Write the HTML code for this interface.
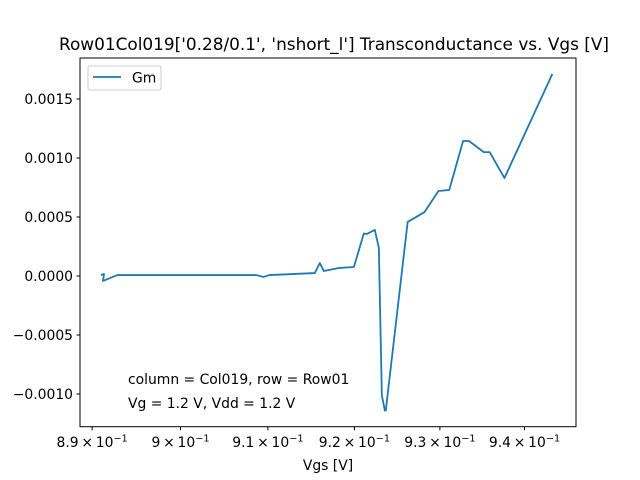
<!DOCTYPE html>
<html><head><meta charset="utf-8"><style>
body{margin:0;background:#fff}
svg{display:block;font-family:"DejaVu Sans","Liberation Sans",sans-serif}
</style></head><body>
<svg id="chart" width="640" height="480" viewBox="0 0 640 480">
<rect width="640" height="480" fill="#fff"/>
<text x="334" y="50" font-size="16.9" text-anchor="middle">Row01Col019['0.28/0.1', 'nshort_l'] Transconductance vs. Vgs [V]</text>
<g id="xticks"></g>
<g id="yticks"></g>
<path id="line" fill="none" stroke="#1f77b4" stroke-width="1.8" stroke-linejoin="round"/>
<rect x="80" y="58" width="496" height="368.7" fill="none" stroke="#000" stroke-width="1"/>
<text x="328" y="470" font-size="13.9" text-anchor="middle">Vgs [V]</text>
<g>
<rect x="88" y="66" width="73" height="24" rx="2" fill="#fff" stroke="#ccc"/>
<line x1="93" y1="77" x2="121" y2="77" stroke="#1f77b4" stroke-width="1.8"/>
<text x="132" y="82.5" font-size="13.9">Gm</text>
</g>
<text x="128" y="384" font-size="13.9">column = Col019, row = Row01</text>
<text x="128" y="408" font-size="13.9">Vg = 1.2 V, Vdd = 1.2 V</text>
</svg>
<script>
const vgs=[0.89099,0.89134,0.89122,0.89285,0.90866,0.90948,0.91017,0.91541,0.91599,0.91645,0.91820,0.91994,0.92110,0.92145,0.92238,0.92285,0.92320,0.92355,0.92366,0.92622,0.92820,0.92983,0.93110,0.93273,0.93343,0.93517,0.93587,0.93762,0.94331];
const gm=[0.0000085,0.000017,-0.000042,0.000008,0.000008,-0.000008,0.000008,0.000025,0.00011,0.000042,0.000068,0.000076,0.00036,0.000356,0.00039,0.00024,-0.00101,-0.00114,-0.00114,0.000458,0.000542,0.00072,0.000729,0.001144,0.001144,0.00105,0.00105,0.00083,0.001712];
const xTickVals=[0.89,0.90,0.91,0.92,0.93,0.94];
const xTickMant=["8.9","9","9.1","9.2","9.3","9.4"];
const yTickVals=[-0.0010,-0.0005,0,0.0005,0.0010,0.0015];
const yTickLabels=["\u22120.0010","\u22120.0005","0.0000","0.0005","0.0010","0.0015"];
const NS="http://www.w3.org/2000/svg";
const K=344/Math.log(0.94/0.9);
function xs(v){return 180.5+K*(Math.log(v)-Math.log(0.9));}
function ys(v){return 276-v*118000;}
let d="";
for(let i=0;i<vgs.length;i++){d+=(i?"L":"M")+xs(vgs[i]).toFixed(2)+","+ys(gm[i]).toFixed(2);}
document.getElementById("line").setAttribute("d",d);
const xg=document.getElementById("xticks");
xTickVals.forEach((v,i)=>{
 const x=xs(v);
 const l=document.createElementNS(NS,"line");
 l.setAttribute("x1",x);l.setAttribute("x2",x);l.setAttribute("y1",426.7);l.setAttribute("y2",430.2);l.setAttribute("stroke","#000");
 
 
 xg.appendChild(l);
 const t=document.createElementNS(NS,"text");
 t.setAttribute("x",x);t.setAttribute("y",447);t.setAttribute("font-size","13.9");t.setAttribute("text-anchor","middle");
 t.innerHTML=xTickMant[i]+"\u2009\u00d7\u200910<tspan dy='-5.5' font-size='9.7'>\u22121</tspan>";
 
 
 xg.appendChild(t);
});
const yg=document.getElementById("yticks");
yTickVals.forEach((v,i)=>{
 const y=ys(v);
 const l=document.createElementNS(NS,"line");
 l.setAttribute("x1",76.5);l.setAttribute("x2",80);l.setAttribute("y1",y);l.setAttribute("y2",y);l.setAttribute("stroke","#000");
 
 
 yg.appendChild(l);
 const t=document.createElementNS(NS,"text");
 t.setAttribute("x",73);t.setAttribute("y",y+5);t.setAttribute("font-size","13.9");t.setAttribute("text-anchor","end");
 t.textContent=yTickLabels[i];
 
 
 yg.appendChild(t);
});
</script>
</body></html>
